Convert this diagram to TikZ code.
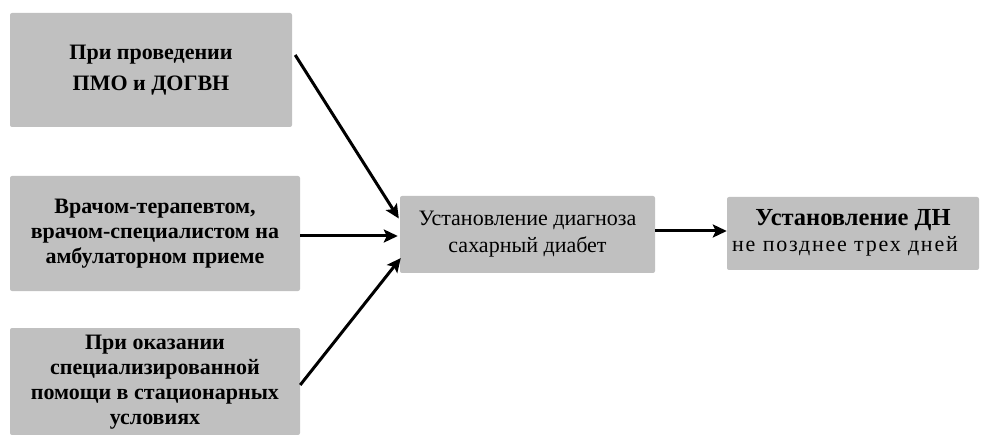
\documentclass[tikz,border=0pt]{standalone}
\usepackage{fontspec}
\setmainfont{Liberation Serif}
\usetikzlibrary{arrows.meta}
\definecolor{boxgray}{RGB}{192,192,192}
\tikzset{
  card/.style={fill=boxgray, rounded corners=2pt, inner sep=0pt, align=center, text=black},
  srctext/.style={font=\bfseries\fontsize{22}{25}\selectfont},
  link/.style={line width=3pt, -{Stealth[length=14pt,width=13pt,inset=3pt]}}
}
% centred block of lines, lowered by #1
\newcommand{\lowered}[2]{\raisebox{-#1}{\begin{tabular}{@{}c@{}}#2\end{tabular}}}
\begin{document}
\begin{tikzpicture}[x=1pt,y=-1pt]
\useasboundingbox (0,0) rectangle (981,435);

% source boxes
\node[card, srctext, font=\bfseries\fontsize{22}{31}\selectfont,
      minimum width=282pt, minimum height=114pt] (b1) at (151,70)
  {При проведении\\ПМО и ДОГВН};
\node[card, srctext, minimum width=290pt, minimum height=115pt] (b2) at (155,233.5)
  {Врачом-терапевтом,\\врачом-специалистом на\\амбулаторном приеме};
\node[card, srctext, font=\bfseries\fontsize{22}{25}\selectfont,
      minimum width=290pt, minimum height=107pt] (b3) at (155,381.5)
  {\lowered{8pt}{При оказании\\специализированной\\помощи в стационарных\\условиях}};

% diagnosis and follow-up
\node[card, font=\fontsize{22}{27}\selectfont,
      minimum width=255pt, minimum height=77pt] (b4) at (527.5,234.5)
  {Установление диагноза\\сахарный диабет};
\node[card, font=\fontsize{22}{26}\selectfont,
      minimum width=252pt, minimum height=73pt] (b5) at (853,233.5)
  {\lowered{4pt}{{\bfseries\fontsize{24.5}{26}\selectfont Установление ДН}\\
   {\addfontfeature{LetterSpace=8}не позднее трех дней}\rule{16pt}{0pt}}};

% connectors
\draw[link] ([shift={(3,-15)}]b1.east) -- ([shift={(-1,-16)}]b4.west);
\draw[link] ([shift={(0,2.5)}]b2.east) -- ([shift={(-2,1.5)}]b4.west);
\draw[link] ([shift={(0,3.5)}]b3.east) -- ([shift={(1,23.5)}]b4.west);
\draw[link] ([shift={(0,-3.5)}]b4.east) -- ([shift={(0,-2.5)}]b5.west);
\end{tikzpicture}
\end{document}
